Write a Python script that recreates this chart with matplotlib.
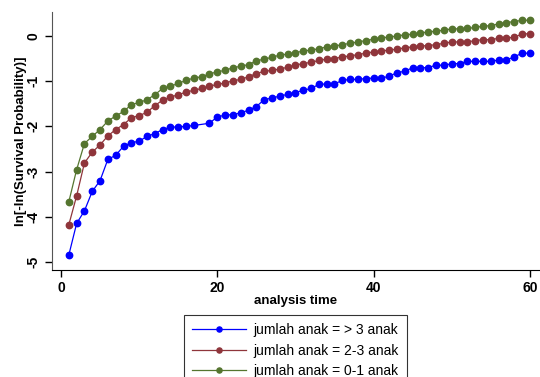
import matplotlib
matplotlib.use('Agg')
import matplotlib.pyplot as plt
import numpy as np

# ln[-ln(S(t))] by number of children, t = 1..60 (blue has no point at t=18)
time_gt3 = [t for t in range(1, 61) if t != 18]
lnln_gt3 = [-4.85, -4.15, -3.87, -3.44, -3.20, -2.73, -2.64, -2.44, -2.36, -2.33,
            -2.22, -2.16, -2.07, -2.02, -2.01, -2.00, -1.98, -1.93, -1.79,
            -1.75, -1.74, -1.70, -1.64, -1.56, -1.41, -1.37, -1.33, -1.29, -1.25,
            -1.20, -1.16, -1.07, -1.06, -1.06, -0.98, -0.96, -0.96, -0.94, -0.93,
            -0.93, -0.89, -0.81, -0.78, -0.70, -0.70, -0.70, -0.64, -0.65, -0.61,
            -0.61, -0.56, -0.56, -0.56, -0.56, -0.53, -0.53, -0.46, -0.38, -0.38]

time_23 = list(range(1, 61))
lnln_23 = [-4.18, -3.54, -2.81, -2.57, -2.41, -2.21, -2.07, -1.96, -1.81, -1.76,
           -1.69, -1.54, -1.42, -1.35, -1.30, -1.24, -1.20, -1.16, -1.11, -1.07,
           -1.04, -0.99, -0.96, -0.90, -0.83, -0.78, -0.76, -0.73, -0.69, -0.64,
           -0.61, -0.58, -0.54, -0.51, -0.50, -0.46, -0.44, -0.41, -0.38, -0.35,
           -0.33, -0.31, -0.29, -0.26, -0.24, -0.22, -0.21, -0.19, -0.16, -0.13,
           -0.13, -0.13, -0.10, -0.08, -0.08, -0.05, -0.04, -0.03, 0.05, 0.05]

time_01 = list(range(1, 61))
lnln_01 = [-3.67, -2.96, -2.38, -2.22, -2.07, -1.88, -1.77, -1.67, -1.52, -1.47,
           -1.41, -1.30, -1.16, -1.11, -1.05, -0.98, -0.93, -0.90, -0.84, -0.79,
           -0.76, -0.70, -0.67, -0.63, -0.55, -0.51, -0.47, -0.42, -0.40, -0.37,
           -0.33, -0.31, -0.28, -0.24, -0.22, -0.19, -0.16, -0.13, -0.10, -0.07,
           -0.04, -0.02, 0.00, 0.03, 0.04, 0.07, 0.09, 0.11, 0.13, 0.16,
           0.16, 0.17, 0.19, 0.22, 0.23, 0.27, 0.30, 0.32, 0.35, 0.35]

labels = ['jumlah anak = > 3 anak', 'jumlah anak = 2-3 anak', 'jumlah anak = 0-1 anak']
colors = ['#0000ff', '#8f353b', '#55752f']
x_ticks = [0, 20, 40, 60]
y_ticks = [0, -1, -2, -3, -4, -5]

plt.rcParams['font.family'] = ['Liberation Sans', 'DejaVu Sans']

fig = plt.figure(figsize=(5.4, 3.77), dpi=100)
ax = fig.add_axes([0.0963, 0.2838, 0.9037, 0.684])

series = [(time_gt3, lnln_gt3), (time_23, lnln_23), (time_01, lnln_01)]
for (t, v), lab, c in zip(series, labels, colors):
    ax.plot(t, v, color=c, lw=0.9, marker='o', ms=4.6, mec=c, mfc=c, label=lab)

ax.set_xlim(-1.15, 61.3)
ax.set_ylim(-5.18, 0.53)
ax.set_xticks(x_ticks)
ax.set_yticks(y_ticks)
ax.set_yticklabels([str(v) for v in y_ticks], rotation=90, va='center')
ax.tick_params(length=5, width=1, labelsize=10, pad=3)
for lbl in ax.get_xticklabels() + ax.get_yticklabels():
    lbl.set_fontweight('bold')

for s in ['top', 'right']:
    ax.spines[s].set_visible(False)
ax.spines['left'].set_color('#555555')
ax.spines['bottom'].set_color('black')

ax.set_xlabel('analysis time', fontsize=9.5, fontweight='bold', labelpad=0)
ax.set_ylabel('ln[-ln(Survival Probability)]', fontsize=9.5, fontweight='bold', labelpad=0)

leg = fig.legend(loc='upper center', bbox_to_anchor=(0.547, 0.1645), fontsize=10,
                 frameon=True, fancybox=False, edgecolor='black', handlelength=3.9,
                 handletextpad=0.5, markerscale=0.8, borderpad=0.6, labelspacing=0.45,
                 borderaxespad=0)
leg.get_frame().set_linewidth(0.8)

fig.savefig('out.png', dpi=100)
